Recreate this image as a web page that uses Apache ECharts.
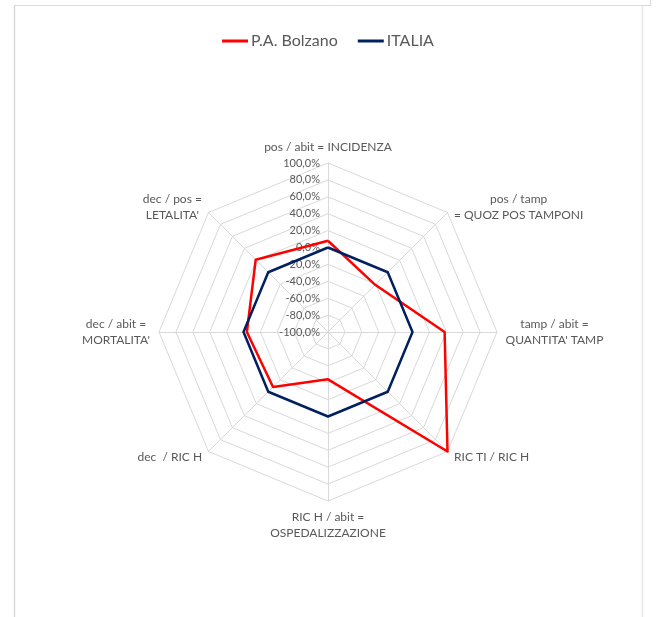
<!DOCTYPE html>
<html>
<head>
<meta charset="utf-8">
<script src="https://cdn.jsdelivr.net/npm/echarts@6/dist/echarts.min.js"></script>
<style>
html,body{margin:0;padding:0;background:#fff;}
#chart{width:656px;height:617px;}
</style>
</head>
<body>
<div id="chart"></div>
<script>
// Indicators listed counter-clockwise starting from the top
const indicatorNames = [
  "pos / abit = INCIDENZA",
  "dec / pos =\nLETALITA'",
  "dec / abit =\nMORTALITA'",
  "dec  / RIC H",
  "RIC H / abit =\nOSPEDALIZZAZIONE",
  "RIC TI / RIC H",
  "tamp / abit =\nQUANTITA' TAMP",
  "pos / tamp\n= QUOZ POS TAMPONI"
];
const seriesNames = ["P.A. Bolzano", "ITALIA"];
const bolzanoValues = [8, 21, -4, -8, -44, 100, 38, -21];
const italiaValues = [0, 0, 0, 0, 0, 0, 0, 0];
const axisMin = -100, axisMax = 100, axisSplits = 10;

const FONT = 'Lato';
const TXT = '#595959';
const NAME_SIZE = 12;

// measure label lines so that multi-line names are centred
const ctx = document.createElement('canvas').getContext('2d');
ctx.font = NAME_SIZE + 'px ' + FONT;
const rich = {};
indicatorNames.forEach((n, i) => {
  const w = Math.max.apply(null, n.split('\n').map(s => ctx.measureText(s).width));
  rich['l' + i] = {width: Math.ceil(w) + 1, align: 'center', color: TXT, fontFamily: FONT, fontSize: NAME_SIZE, lineHeight: 16};
});
const nameIndex = {};
indicatorNames.forEach((n, i) => { nameIndex[n] = i; });

const chart = echarts.init(document.getElementById('chart'), null, {renderer: 'canvas'});
const indicator = indicatorNames.map((n, i) => {
  const o = {name: n, min: axisMin, max: axisMax};
  if (i === 0) {
    o.axisLabel = {
      show: true, color: TXT, fontFamily: FONT, fontSize: 11,
      formatter: v => v.toFixed(1).replace('.', ',') + '%'
    };
  }
  return o;
});

chart.setOption({
  animation: false,
  backgroundColor: '#ffffff',
  graphic: [
    {type: 'line', shape: {x1: 14, y1: 5.5, x2: 651, y2: 5.5}, style: {stroke: '#d9d9d9', lineWidth: 1}},
    {type: 'line', shape: {x1: 650.5, y1: 0, x2: 650.5, y2: 5}, style: {stroke: '#d9d9d9', lineWidth: 1}},
    {type: 'line', shape: {x1: 14.5, y1: 5, x2: 14.5, y2: 617}, style: {stroke: '#d9d9d9', lineWidth: 1.5}},
    {type: 'line', shape: {x1: 642.5, y1: 6, x2: 642.5, y2: 617}, style: {stroke: '#e6e6e6', lineWidth: 1.5}}
  ],
  legend: {
    top: 28, left: 'center',
    icon: 'rect',
    itemWidth: 26, itemHeight: 3, itemGap: 20,
    textStyle: {color: TXT, fontFamily: FONT, fontSize: 16, padding: [0, 0, 0, -2]},
    data: seriesNames
  },
  radar: {
    center: [328, 332],
    radius: 169,
    startAngle: 90,
    splitNumber: axisSplits,
    shape: 'polygon',
    indicator: indicator,
    axisName: {
      color: TXT, fontFamily: FONT, fontSize: NAME_SIZE, lineHeight: 16,
      formatter: (name) => {
        const i = nameIndex[name];
        return name.split('\n').map(s => '{l' + i + '|' + s + '}').join('\n');
      },
      rich: rich
    },
    nameGap: 8,
    axisLine: {lineStyle: {color: '#d9d9d9', width: 1}},
    splitLine: {lineStyle: {color: '#d9d9d9', width: 1}},
    splitArea: {show: false},
    axisLabel: {show: false},
    axisTick: {show: false}
  },
  series: [{
    type: 'radar',
    symbol: 'none',
    data: [
      {name: seriesNames[0], value: bolzanoValues, lineStyle: {color: '#ff0000', width: 2.5}, itemStyle: {color: '#ff0000'}},
      {name: seriesNames[1], value: italiaValues, lineStyle: {color: '#002060', width: 2.5}, itemStyle: {color: '#002060'}}
    ]
  }]
});
</script>
</body>
</html>
